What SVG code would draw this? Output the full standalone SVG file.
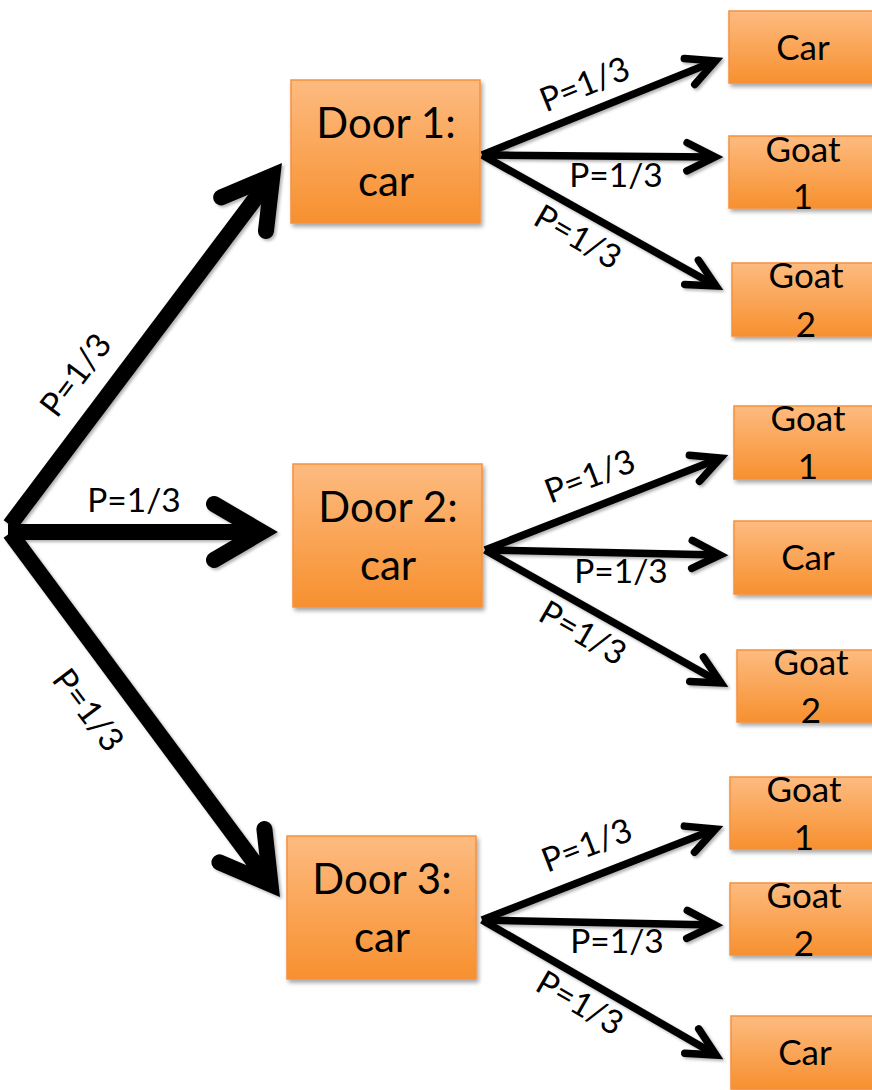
<svg xmlns="http://www.w3.org/2000/svg" width="872" height="1090" viewBox="0 0 872 1090">
<defs>
<linearGradient id="og" x1="0" y1="0" x2="0" y2="1">
<stop offset="0" stop-color="#fdbb80"/>
<stop offset="1" stop-color="#f7902f"/>
</linearGradient>
<filter id="sh" x="-10%" y="-10%" width="130%" height="130%">
<feDropShadow dx="2" dy="3" stdDeviation="2" flood-color="#000" flood-opacity="0.35"/>
</filter>
<filter id="ash" x="-10%" y="-10%" width="130%" height="130%">
<feDropShadow dx="2" dy="2" stdDeviation="1.5" flood-color="#000" flood-opacity="0.3"/>
</filter>
<marker id="bigHead" markerUnits="userSpaceOnUse" orient="auto" refX="0" refY="0" markerWidth="200" markerHeight="200" viewBox="-100 -100 200 200" overflow="visible">
<path d="M-48,-28 L0,0 L-48,28" fill="none" stroke="#000" stroke-width="16" stroke-linecap="round" stroke-linejoin="miter"/>
</marker>
<marker id="smallHead" markerUnits="userSpaceOnUse" orient="auto" refX="0" refY="0" markerWidth="100" markerHeight="100" viewBox="-50 -50 100 100" overflow="visible">
<path d="M-28,-14 L0,0 L-28,14" fill="none" stroke="#000" stroke-width="7.5" stroke-linecap="round" stroke-linejoin="miter"/>
</marker>
</defs>
<style>
.box{fill:url(#og);stroke:#f5913c;stroke-width:1.5;filter:url(#sh)}
.t{font-family:Lato,"Liberation Sans",sans-serif;fill:#000;text-anchor:middle}
.door{font-size:42px}
.res{font-size:35px}
.lbl{font-size:33.5px}
.big{fill:none;stroke:#000;stroke-width:16;stroke-linecap:butt;marker-end:url(#bigHead)}
.sm{fill:none;stroke:#000;stroke-width:7.5;stroke-linecap:butt;marker-end:url(#smallHead)}
</style>
<rect width="872" height="1090" fill="#fff"/>

<g id="connectors" filter="url(#ash)">
<path class="big" d="M10,525 L272.4,175.8"/>
<path class="big" d="M8,532 L262,532"/>
<path class="big" d="M10,533 L270.5,884.2"/>
<path class="sm" d="M482,155 L715.5,61"/>
<path class="sm" d="M482,155 L715,157"/>
<path class="sm" d="M482,155 L716,286"/>
<path class="sm" d="M485,550 L720.5,458"/>
<path class="sm" d="M485,550 L720,555"/>
<path class="sm" d="M485,550 L721,683"/>
<path class="sm" d="M482,920 L715.5,829"/>
<path class="sm" d="M482,920 L715,925"/>
<path class="sm" d="M482,920 L716,1055"/>
</g>

<g id="labels">
<text class="t lbl" transform="translate(85,382) rotate(-53)">P=1/3</text>
<text class="t lbl" x="134" y="512">P=1/3</text>
<text class="t lbl" transform="translate(79,717) rotate(53)">P=1/3</text>
<text class="t lbl" transform="translate(589,95) rotate(-22)">P=1/3</text>
<text class="t lbl" x="616" y="187">P=1/3</text>
<text class="t lbl" transform="translate(572,247) rotate(30)">P=1/3</text>
<text class="t lbl" transform="translate(594,487) rotate(-21)">P=1/3</text>
<text class="t lbl" x="621" y="583">P=1/3</text>
<text class="t lbl" transform="translate(577,643) rotate(30)">P=1/3</text>
<text class="t lbl" transform="translate(591,856) rotate(-21)">P=1/3</text>
<text class="t lbl" x="617" y="953">P=1/3</text>
<text class="t lbl" transform="translate(574,1013) rotate(30)">P=1/3</text>
</g>

<g id="door1">
<rect class="box" x="291" y="80" width="189" height="143"/>
<text class="t door" x="386" y="138">Door 1:</text>
<text class="t door" x="386" y="196">car</text>
</g>
<g id="door2">
<rect class="box" x="293" y="464" width="189" height="143"/>
<text class="t door" x="388" y="522">Door 2:</text>
<text class="t door" x="388" y="580">car</text>
</g>
<g id="door3">
<rect class="box" x="287" y="836" width="189" height="143"/>
<text class="t door" x="382" y="894">Door 3:</text>
<text class="t door" x="382" y="952">car</text>
</g>

<g id="r1">
<rect class="box" x="729" y="11" width="148" height="72"/>
<text class="t res" x="803" y="60">Car</text>
</g>
<g id="r2">
<rect class="box" x="729" y="136" width="148" height="72"/>
<text class="t res" x="803" y="162">Goat</text>
<text class="t res" x="803" y="209">1</text>
</g>
<g id="r3">
<rect class="box" x="732" y="263" width="148" height="73"/>
<text class="t res" x="806" y="288">Goat</text>
<text class="t res" x="806" y="337">2</text>
</g>
<g id="r4">
<rect class="box" x="734" y="406" width="148" height="73"/>
<text class="t res" x="808" y="431">Goat</text>
<text class="t res" x="808" y="479">1</text>
</g>
<g id="r5">
<rect class="box" x="734" y="521" width="148" height="73"/>
<text class="t res" x="808" y="570">Car</text>
</g>
<g id="r6">
<rect class="box" x="737" y="650" width="148" height="72"/>
<text class="t res" x="811" y="675">Goat</text>
<text class="t res" x="811" y="723">2</text>
</g>
<g id="r7">
<rect class="box" x="730" y="777" width="148" height="72"/>
<text class="t res" x="804" y="802">Goat</text>
<text class="t res" x="804" y="850">1</text>
</g>
<g id="r8">
<rect class="box" x="730" y="883" width="148" height="72"/>
<text class="t res" x="804" y="908">Goat</text>
<text class="t res" x="804" y="956">2</text>
</g>
<g id="r9">
<rect class="box" x="731" y="1016" width="148" height="73"/>
<text class="t res" x="805" y="1065">Car</text>
</g>
</svg>
